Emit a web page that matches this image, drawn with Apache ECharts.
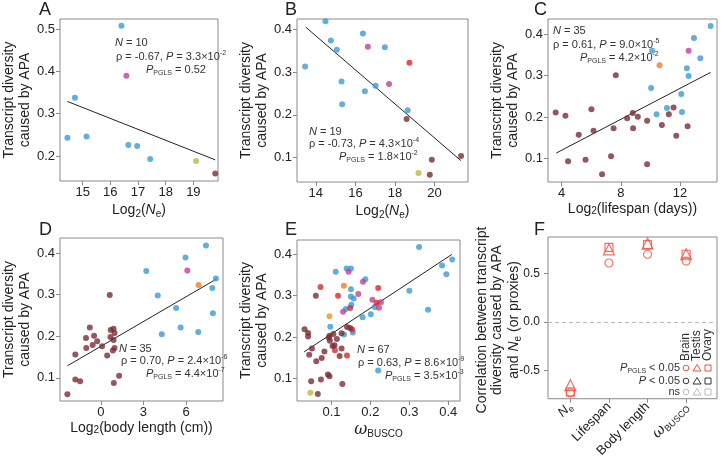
<!DOCTYPE html>
<html>
<head>
<meta charset="utf-8">
<script src="https://cdn.jsdelivr.net/npm/echarts@6/dist/echarts.min.js"></script>
<style>
  html, body { margin: 0; padding: 0; background: #fff; }
  #main { width: 721px; height: 460px; }
</style>
</head>
<body>
<div id="main"></div>
<script>
// 点的颜色分组
const COLORS = {
  blue: '#3b9bd2',
  brown: '#7b2c34',
  magenta: '#c43d9b',
  red: '#d62a2b',
  orange: '#f07c22',
  olive: '#bab93c',
  gold: '#d8a326'
}

// A: Log2(Ne)
const aPoints = [
  [16.40, 0.508, 'blue'], [16.58, 0.390, 'magenta'], [14.72, 0.338, 'blue'],
  [14.45, 0.243, 'blue'], [15.14, 0.246, 'blue'], [16.65, 0.226, 'blue'],
  [16.97, 0.224, 'blue'], [17.44, 0.193, 'blue'], [19.10, 0.188, 'olive'],
  [19.79, 0.159, 'brown']
]
const aLine = [[14.45, 0.329], [19.79, 0.191]]
const aXTicks = [15, 16, 17, 18, 19]
const aYTicks = [0.2, 0.3, 0.4, 0.5]

// B: Log2(Ne)
const bPoints = [
  [14.49, 0.419, 'blue'], [14.76, 0.374, 'blue'], [15.06, 0.352, 'blue'],
  [13.46, 0.313, 'blue'], [16.38, 0.390, 'blue'], [16.63, 0.359, 'magenta'],
  [17.49, 0.358, 'blue'], [18.73, 0.322, 'red'], [15.30, 0.278, 'blue'],
  [17.02, 0.268, 'blue'], [17.70, 0.272, 'magenta'], [16.48, 0.255, 'blue'],
  [15.33, 0.225, 'blue'], [18.64, 0.211, 'blue'], [18.59, 0.190, 'brown'],
  [21.34, 0.104, 'brown'], [19.86, 0.095, 'brown'], [19.19, 0.064, 'olive'],
  [19.76, 0.060, 'brown']
]
const bLine = [[13.49, 0.405], [21.33, 0.093]]
const bXTicks = [14, 16, 18, 20]
const bYTicks = [0.1, 0.2, 0.3, 0.4]

// C: Log2(lifespan)
const cPoints = [
  [14.08, 0.420, 'blue'], [12.95, 0.391, 'blue'], [10.12, 0.360, 'blue'],
  [13.38, 0.342, 'blue'], [12.47, 0.318, 'blue'], [12.59, 0.299, 'blue'],
  [10.05, 0.270, 'blue'], [12.09, 0.256, 'blue'], [11.12, 0.222, 'blue'],
  [10.42, 0.207, 'blue'], [12.14, 0.212, 'blue'], [12.59, 0.360, 'magenta'],
  [10.62, 0.325, 'orange'],
  [7.66, 0.301, 'brown'], [3.59, 0.211, 'brown'], [4.25, 0.203, 'brown'],
  [6.01, 0.219, 'brown'], [8.81, 0.210, 'brown'], [8.43, 0.197, 'brown'],
  [9.15, 0.201, 'brown'], [9.78, 0.191, 'brown'], [11.57, 0.223, 'brown'],
  [11.25, 0.207, 'brown'], [10.78, 0.181, 'brown'], [12.52, 0.178, 'brown'],
  [5.15, 0.157, 'brown'], [6.15, 0.167, 'brown'], [7.51, 0.173, 'brown'],
  [8.83, 0.173, 'brown'], [11.75, 0.155, 'brown'], [4.43, 0.093, 'brown'],
  [5.61, 0.097, 'brown'], [7.34, 0.105, 'brown'], [9.78, 0.086, 'brown'],
  [6.73, 0.062, 'brown']
]
const cLine = [[3.63, 0.113], [14.08, 0.308]]
const cXTicks = [4, 8, 12]
const cYTicks = [0.1, 0.2, 0.3, 0.4]

// D: Log2(body length)
const dPoints = [
  [7.40, 0.418, 'blue'], [5.96, 0.389, 'blue'], [3.20, 0.357, 'blue'],
  [8.10, 0.339, 'blue'], [7.85, 0.316, 'blue'], [4.01, 0.298, 'blue'],
  [5.30, 0.268, 'blue'], [7.89, 0.255, 'blue'], [5.62, 0.221, 'blue'],
  [6.86, 0.210, 'blue'], [4.29, 0.205, 'blue'], [6.09, 0.358, 'magenta'],
  [6.88, 0.323, 'orange'],
  [0.63, 0.299, 'brown'], [-0.77, 0.221, 'brown'], [-0.47, 0.201, 'brown'],
  [-1.04, 0.196, 'brown'], [-1.02, 0.172, 'brown'], [-0.57, 0.179, 'brown'],
  [0.09, 0.176, 'brown'], [0.68, 0.198, 'brown'], [0.90, 0.218, 'brown'],
  [0.97, 0.208, 'brown'], [0.90, 0.191, 'brown'], [0.97, 0.172, 'brown'],
  [0.85, 0.166, 'brown'], [0.45, 0.154, 'brown'], [-1.79, 0.156, 'brown'],
  [1.29, 0.105, 'brown'], [0.92, 0.088, 'brown'], [-1.79, 0.096, 'brown'],
  [-1.45, 0.092, 'brown'], [-2.35, 0.061, 'brown'], [-0.25, 0.188, 'brown'],
  [0.70, 0.215, 'brown']
]
const dLine = [[-2.35, 0.129], [8.17, 0.338]]
const dXTicks = [0, 3, 6]
const dYTicks = [0.1, 0.2, 0.3, 0.4]

// E: omega BUSCO
const ePoints = [
  [0.325, 0.418, 'blue'], [0.111, 0.358, 'blue'], [0.139, 0.366, 'blue'],
  [0.150, 0.366, 'blue'], [0.384, 0.373, 'blue'], [0.410, 0.388, 'blue'],
  [0.395, 0.352, 'blue'], [0.150, 0.316, 'blue'], [0.187, 0.340, 'blue'],
  [0.150, 0.298, 'blue'], [0.157, 0.293, 'blue'], [0.300, 0.312, 'blue'],
  [0.151, 0.278, 'blue'], [0.137, 0.268, 'blue'], [0.211, 0.273, 'blue'],
  [0.180, 0.248, 'blue'], [0.201, 0.255, 'blue'], [0.348, 0.266, 'blue'],
  [0.097, 0.225, 'blue'], [0.132, 0.206, 'blue'], [0.155, 0.211, 'blue'],
  [0.220, 0.119, 'blue'],
  [0.144, 0.358, 'magenta'], [0.181, 0.334, 'magenta'], [0.169, 0.304, 'magenta'],
  [0.205, 0.290, 'magenta'], [0.227, 0.284, 'magenta'], [0.222, 0.271, 'magenta'],
  [0.130, 0.261, 'magenta'],
  [0.072, 0.321, 'red'], [0.117, 0.300, 'red'], [0.220, 0.319, 'red'],
  [0.216, 0.283, 'red'], [0.148, 0.270, 'red'], [0.153, 0.218, 'red'],
  [0.109, 0.168, 'red'], [0.140, 0.155, 'red'],
  [0.132, 0.324, 'orange'], [0.095, 0.250, 'gold'], [0.046, 0.065, 'olive'],
  [0.060, 0.300, 'brown'], [0.031, 0.219, 'brown'], [0.040, 0.210, 'brown'],
  [0.040, 0.201, 'brown'], [0.050, 0.172, 'brown'], [0.043, 0.157, 'brown'],
  [0.061, 0.141, 'brown'], [0.075, 0.149, 'brown'], [0.082, 0.165, 'brown'],
  [0.095, 0.203, 'brown'], [0.096, 0.191, 'brown'], [0.105, 0.207, 'brown'],
  [0.114, 0.195, 'brown'], [0.103, 0.178, 'brown'], [0.108, 0.180, 'brown'],
  [0.126, 0.209, 'brown'], [0.126, 0.172, 'brown'], [0.121, 0.154, 'brown'],
  [0.140, 0.224, 'brown'], [0.148, 0.222, 'brown'], [0.091, 0.109, 'brown'],
  [0.095, 0.105, 'brown'], [0.073, 0.097, 'brown'], [0.048, 0.093, 'brown'],
  [0.128, 0.086, 'brown'], [0.065, 0.062, 'brown'], [0.093, 0.198, 'brown']
]
const eLine = [[0.030, 0.164], [0.409, 0.400]]
const eXTicks = [0.1, 0.2, 0.3, 0.4]
const eYTicks = [0.1, 0.2, 0.3, 0.4]

// F: 相关系数
const fCategories = ['{i|N}{sub|e}', 'Lifespan', 'Body length', '{w|ω}{sub|BUSCO}']
const fBrain = [-0.73, 0.61, 0.70, 0.63]
const fTestis = [-0.65, 0.75, 0.81, 0.70]
const fOvary = [-0.72, 0.77, 0.80, 0.70]
const fYTicks = [-0.5, 0, 0.5]

const FONT = 'Liberation Sans, Arial, sans-serif'
const INK = '#222'
const FRAME = '#8a8a8a'
const FRED = '#f0503f'

const richBase = {
  i: { fontStyle: 'italic', fontFamily: FONT, fontSize: 11, lineHeight: 14, color: '#333' },
  w: { fontStyle: 'italic', fontFamily: 'DejaVu Serif', fontSize: 12, lineHeight: 14, color: '#333' },
  sub: { fontFamily: FONT, fontSize: 7, lineHeight: 7, verticalAlign: 'bottom', color: '#333' },
  sup: { fontFamily: FONT, fontSize: 7, lineHeight: 7, verticalAlign: 'top', color: '#333' }
}
function richSized (size) {
  return {
    i: Object.assign({}, richBase.i, { fontSize: size, lineHeight: size + 4, color: INK }),
    w: Object.assign({}, richBase.w, { fontSize: size + 2, lineHeight: size + 4, color: INK }),
    sub: Object.assign({}, richBase.sub, { fontSize: size - 4, lineHeight: size - 4, color: INK }),
    sup: Object.assign({}, richBase.sup, { fontSize: size - 4, lineHeight: size - 4, color: INK })
  }
}

const grids = [
  { left: 53, top: 19, width: 165, height: 162 },
  { left: 297, top: 19, width: 171, height: 163 },
  { left: 548, top: 19, width: 169, height: 163 },
  { left: 53, top: 238, width: 170, height: 163 },
  { left: 297, top: 240, width: 163, height: 161 },
  { left: 548, top: 237, width: 169, height: 164 }
].map(g => Object.assign({ show: true, borderColor: FRAME, borderWidth: 1 }, g))

function xAxisOf (i, min, max, ticks, name, nameGap, fmt) {
  return {
    type: 'value', gridIndex: i, position: 'bottom', min, max,
    axisLine: { show: false, onZero: false },
    axisTick: { show: true, length: 4, customValues: ticks, lineStyle: { color: FRAME } },
    axisLabel: { customValues: ticks, color: INK, fontSize: 13, fontFamily: FONT, margin: 5, formatter: fmt || (v => String(v)), rich: richSized(13) },
    splitLine: { show: false },
    name, nameLocation: 'middle', nameGap,
    nameTextStyle: { color: INK, fontSize: 14, fontFamily: FONT, rich: richSized(14) }
  }
}
function yAxisOf (i, min, max, ticks, name, nameGap) {
  return {
    type: 'value', gridIndex: i, position: 'left', min, max,
    axisLine: { show: false, onZero: false },
    axisTick: { show: true, length: 4, customValues: ticks, lineStyle: { color: FRAME } },
    axisLabel: { show: true, customValues: ticks, color: INK, fontSize: 13, fontFamily: FONT, margin: 5, formatter: v => v.toFixed(1) },
    splitLine: { show: false },
    name, nameLocation: 'middle', nameGap, nameRotate: 90,
    nameTextStyle: { color: INK, fontSize: 14, fontFamily: FONT, lineHeight: 16, rich: richSized(14) }
  }
}

const yTitle = 'Transcript diversity\ncaused by APA'
const log2Ne = 'Log{sub|2}({i|N}{sub|e})'

const xAxes = [
  xAxisOf(0, 14.18, 19.89, aXTicks, log2Ne, 20),
  xAxisOf(1, 13.05, 21.69, bXTicks, log2Ne, 20),
  xAxisOf(2, 3.07, 14.51, cXTicks, 'Log{sub|2}(lifespan (days))', 20),
  xAxisOf(3, -2.87, 8.6, dXTicks, 'Log{sub|2}(body length (cm))', 20),
  xAxisOf(4, 0.0116, 0.43, eXTicks, '{w|ω}{sub|BUSCO}', 20, v => v.toFixed(1)),
  {
    type: 'value', gridIndex: 5, position: 'bottom', min: 0.42, max: 4.8,
    axisLine: { show: false, onZero: false },
    axisTick: { show: true, length: 4, customValues: [1, 2, 3, 4], lineStyle: { color: FRAME } },
    axisLabel: {
      customValues: [1, 2, 3, 4], rotate: 45, color: INK, fontSize: 13, fontFamily: FONT, margin: 6,
      formatter: v => fCategories[Math.round(v) - 1], rich: richSized(13)
    },
    splitLine: { show: false }
  }
]
const fYAxis = yAxisOf(5, -0.79, 0.878, fYTicks, '', 30)
fYAxis.axisLabel.show = false // 刻度文字下面用坐标换算后补上
const yAxes = [
  yAxisOf(0, 0.141, 0.524, aYTicks, yTitle, 22),
  yAxisOf(1, 0.043, 0.424, bYTicks, yTitle, 22),
  yAxisOf(2, 0.043, 0.437, cYTicks, yTitle, 22),
  yAxisOf(3, 0.0445, 0.436, dYTicks, yTitle, 22),
  yAxisOf(4, 0.045, 0.435, eYTicks, yTitle, 22),
  fYAxis
]

function scatterOf (i, pts) {
  return {
    type: 'scatter', xAxisIndex: i, yAxisIndex: i,
    symbolSize: 6,
    data: pts.map(p => ({ value: [p[0], p[1]], itemStyle: { color: COLORS[p[2]] } })),
    z: 3
  }
}
function lineOf (i, pts) {
  return {
    type: 'line', xAxisIndex: i, yAxisIndex: i, data: pts,
    symbol: 'none', lineStyle: { color: '#222', width: 1 }, z: 2, silent: true
  }
}
function markerOf (vals, symbol, size) {
  return {
    type: 'scatter', xAxisIndex: 5, yAxisIndex: 5, symbol, symbolSize: size,
    data: vals.map((v, k) => [k + 1, v]),
    itemStyle: { color: 'rgba(0,0,0,0)', borderColor: FRED, borderWidth: 1.2 },
    z: 3
  }
}

const series = [
  scatterOf(0, aPoints), lineOf(0, aLine),
  scatterOf(1, bPoints), lineOf(1, bLine),
  scatterOf(2, cPoints), lineOf(2, cLine),
  scatterOf(3, dPoints), lineOf(3, dLine),
  scatterOf(4, ePoints), lineOf(4, eLine),
  Object.assign(markerOf(fOvary, 'rect', 8), {
    markLine: {
      silent: true, symbol: 'none', label: { show: false },
      lineStyle: { color: '#bbb', type: [4, 3], width: 1 },
      data: [{ yAxis: 0 }]
    }
  }),
  markerOf(fBrain, 'circle', 8),
  markerOf(fTestis, 'triangle', 11)
]

// 注释文字
function note (x, y, text, align) {
  return {
    type: 'text', x, y, z: 10,
    style: {
      text, fill: '#333', fontSize: 11, fontFamily: FONT, lineHeight: 14,
      align: align || 'left', verticalAlign: 'middle', rich: richBase
    }
  }
}
function letter (x, y, t) {
  return {
    type: 'text', x, y, z: 10,
    style: { text: t, fill: INK, fontSize: 18, fontFamily: FONT, align: 'left', verticalAlign: 'top' }
  }
}
const graphics = [
  letter(39, 1, 'A'), letter(285, 1, 'B'), letter(534, 1, 'C'),
  letter(39, 221, 'D'), letter(285, 221, 'E'), letter(534, 221, 'F'),
  note(115, 43, '{i|N} = 10'),
  note(116, 57, 'ρ = -0.67, {i|P} = 3.3×10{sup|-2}'),
  note(146, 70, '{i|P}{sub|PGLS} = 0.52'),
  note(309, 132, '{i|N} = 19'),
  note(309, 144, 'ρ = -0.73, {i|P} = 4.3×10{sup|-4}'),
  note(339, 157, '{i|P}{sub|PGLS} = 1.8×10{sup|-2}'),
  note(553, 31, '{i|N} = 35'),
  note(553, 45, 'ρ = 0.61, {i|P} = 9.0×10{sup|-5}'),
  note(580, 58, '{i|P}{sub|PGLS} = 4.2×10{sup|-2}'),
  note(119, 349, '{i|N} = 35'),
  note(121, 361, 'ρ = 0.70, {i|P} = 2.4×10{sup|-6}'),
  note(146, 374, '{i|P}{sub|PGLS} = 4.4×10{sup|-7}'),
  note(357, 350, '{i|N} = 67'),
  note(358, 363, 'ρ = 0.63, {i|P} = 8.6×10{sup|-9}'),
  note(385, 376, '{i|P}{sub|PGLS} = 3.5×10{sup|-3}'),
  // F 的纵轴标题
  {
    type: 'text', x: 499, y: 320, rotation: Math.PI / 2, z: 10,
    style: {
      text: 'Correlation between transcript\ndiversity caused by APA\nand {i|N}{sub|e} (or proxies)',
      fill: INK, fontSize: 14, fontFamily: FONT, lineHeight: 15,
      align: 'center', verticalAlign: 'middle', rich: richSized(14)
    }
  }
]

// F 图例
const legRows = [
  { y: 368, text: '{i|P}{sub|PGLS} < 0.05', color: FRED },
  { y: 381, text: '{i|P} < 0.05', color: '#333' },
  { y: 392, text: 'ns', color: '#bbb' }
]
const legCols = [686, 697, 708]
legRows.forEach(r => {
  graphics.push(note(680, r.y, r.text, 'right'))
  graphics.push({ type: 'circle', z: 10, shape: { cx: legCols[0], cy: r.y, r: 2.8 }, style: { fill: 'none', stroke: r.color, lineWidth: 1 } })
  graphics.push({ type: 'polygon', z: 10, shape: { points: [[legCols[1], r.y - 3.5], [legCols[1] - 4, r.y + 3], [legCols[1] + 4, r.y + 3]] }, style: { fill: 'none', stroke: r.color, lineWidth: 1 } })
  graphics.push({ type: 'rect', z: 10, shape: { x: legCols[2] - 3, y: r.y - 3, width: 6, height: 6 }, style: { fill: 'none', stroke: r.color, lineWidth: 1 } })
})
;['Brain', 'Testis', 'Ovary'].forEach((t, k) => {
  graphics.push({
    type: 'text', x: legCols[k], y: 361, rotation: Math.PI / 2, z: 10,
    style: { text: t, fill: '#333', fontSize: 12, fontFamily: FONT, align: 'left', verticalAlign: 'middle' }
  })
})

const chart = echarts.init(document.getElementById('main'), null, { renderer: 'canvas' })
chart.setOption({
  animation: false,
  backgroundColor: '#fff',
  grid: grids,
  xAxis: xAxes,
  yAxis: yAxes,
  series,
  graphic: graphics
})

// F 纵轴刻度文字：用坐标轴换算位置
const fLeft = chart.convertToPixel({ xAxisIndex: 5 }, 0.42)
fYTicks.forEach(v => {
  const py = chart.convertToPixel({ yAxisIndex: 5 }, v)
  graphics.push({
    type: 'text', x: fLeft - 8, y: py, z: 10,
    style: { text: v.toFixed(1), fill: INK, fontSize: 12, fontFamily: FONT, align: 'right', verticalAlign: 'middle' }
  })
})
chart.setOption({ graphic: graphics })
</script>
</body>
</html>
